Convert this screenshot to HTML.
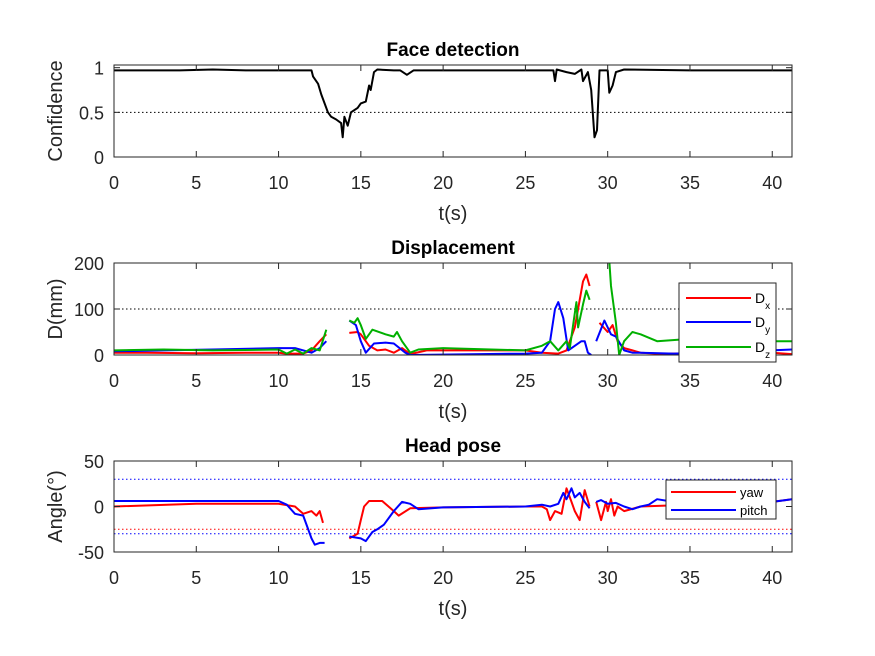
<!DOCTYPE html>
<html><head><meta charset="utf-8"><style>
body{margin:0;background:#fff}
svg{display:block;font-family:"Liberation Sans",Arial,sans-serif}
.tk{font-size:18px;fill:#262626}
.lb{font-size:20px;fill:#262626}
.tt{font-size:19px;font-weight:bold;fill:#000}
</style></head><body>
<svg id="fig" width="875" height="656" viewBox="0 0 875 656" xmlns="http://www.w3.org/2000/svg">
<rect width="875" height="656" fill="#fff"/>
</svg>
<script>
const faceT=[0,2,4,6,8,10,12,12.1,12.4,12.6,12.8,13.0,13.2,13.5,13.8,13.9,14.0,14.2,14.4,14.8,15.0,15.3,15.5,15.6,15.8,16,17,17.4,17.8,18.2,20,24,26.7,26.8,26.9,27.5,28,28.4,28.5,28.8,29.0,29.2,29.35,29.5,30,30.1,30.3,30.5,31,35,41.2];
const faceV=[0.97,0.97,0.97,0.98,0.97,0.97,0.97,0.9,0.82,0.7,0.6,0.5,0.45,0.42,0.38,0.22,0.45,0.35,0.5,0.55,0.6,0.62,0.8,0.75,0.95,0.98,0.97,0.97,0.92,0.97,0.97,0.97,0.97,0.85,0.98,0.95,0.93,0.98,0.85,0.95,0.75,0.22,0.3,0.97,0.97,0.72,0.8,0.95,0.98,0.97,0.97];
const dxT=[[0,2,5,8,10,10.5,11.5,12,12.5,12.9],[14.3,14.8,15,15.5,16,16.5,17,17.5,18,19,25,26,27,27.5,28,28.5,28.7,28.9],[29.5,30,30.3,30.6,31,31.5,32,33,36,40,41.2]];
const dxV=[[5,5,4,5,5,3,3,10,30,45],[48,50,45,20,10,12,5,15,2,10,10,5,3,10,60,160,175,150],[70,50,65,30,15,10,5,3,4,5,2]];
const dyT=[[0,3,6,10,11,12,12.5,12.9],[14.3,14.7,15,15.3,15.8,16.5,17,17.7,18,25,26,26.5,26.8,27,27.3,27.6,28,28.4,28.6,28.8,29],[29.3,29.8,30.2,30.5,31,31.5,32,34,38,41.2]];
const dyV=[[8,10,12,15,15,5,15,30],[75,65,30,5,25,27,25,5,0,3,5,30,100,115,80,10,20,30,30,5,0],[30,75,45,40,10,5,5,3,7,12]];
const dzT=[[0,3,6,10,10.5,11,11.5,12,12.5,12.9],[14.3,14.6,14.8,15,15.3,15.7,16.5,17,17.2,17.5,18,18.5,20,25,26,26.5,27,27.5,27.7,28.1,28.2,28.5,28.7,28.9],[30.05,30.2,30.5,30.7,31,31.5,32,33,35,39,39.5,41.2]];
const dzV=[[10,12,10,12,3,12,3,15,10,55],[75,70,80,65,35,55,45,40,50,30,5,12,15,10,20,30,10,30,15,115,60,110,140,120],[230,150,70,0,30,50,45,30,35,35,30,30]];
const yawT=[[0,5,10,11,11.5,12,12.3,12.5,12.7],[14.3,14.8,15,15.2,15.5,16.3,17,17.3,18,20,25,26,26.3,26.5,26.8,27.2,27.5,27.8,28,28.3,28.6,28.9],[29.3,29.6,29.9,30,30.2,30.4,30.6,31,32,35,40,41.2]];
const yawV=[[0,3,3,0,-8,-5,-10,-5,-18],[-35,-30,-15,0,6,6,-5,-10,-2,-1,0,0,-3,-15,-5,-8,20,5,-5,-15,18,0],[5,-15,5,-5,8,-10,0,-5,0,2,5,8]];
const pitchT=[[0,5,10,10.5,11,11.5,12,12.2,12.5,12.8],[14.3,15,15.3,15.7,16,16.4,17,17.5,18,18.5,20,25,26,26.5,27,27.3,27.5,27.8,28,28.3,28.6,28.9],[29.3,29.6,30,30.5,31,31.5,32,32.5,33,34,40,41.2]];
const pitchV=[[6,6,6,2,-8,-10,-35,-42,-40,-40],[-33,-35,-38,-28,-25,-20,-5,5,3,-3,-1,0,2,0,3,15,8,20,10,15,5,-2],[5,7,3,4,0,-3,0,2,8,5,5,8]];
const xTicks=[0,5,10,15,20,25,30,35,40];
const XMAX=41.2;
const L=114,R=792;
const panels=[
 {top:65,bot:157,ymin:0,ymax:1.03,ticks:[0,0.5,1],tl:['0','0.5','1'],title:'Face detection',ylab:'Confidence',name:'face'},
 {top:263,bot:355,ymin:0,ymax:200,ticks:[0,100,200],tl:['0','100','200'],title:'Displacement',ylab:'D(mm)',name:'disp'},
 {top:461,bot:552,ymin:-50,ymax:50,ticks:[-50,0,50],tl:['-50','0','50'],title:'Head pose',ylab:'Angle(°)',name:'pose'}];
const NS='http://www.w3.org/2000/svg';
const svg=document.getElementById('fig');
function mk(tag,attrs,parent){const e=document.createElementNS(NS,tag);for(const k in attrs)e.setAttribute(k,attrs[k]);(parent||svg).appendChild(e);return e;}
const xs=t=>L+(R-L)*t/XMAX;
function ys(p,v){return p.bot-(p.bot-p.top)*(v-p.ymin)/(p.ymax-p.ymin);}
function line(p,T,V,color,g,nm){
  const clipId='clip-'+p.name;
  const d=T.map((t,i)=>(i?'L':'M')+xs(t).toFixed(1)+','+ys(p,V[i]).toFixed(1)).join('');
  const e=mk('path',{d:d,fill:'none',stroke:color,'stroke-width':2,'stroke-linejoin':'round','clip-path':'url(#'+clipId+')'},g);
  
  
}
function hline(p,v,color,g,nm){
  const e=mk('line',{x1:L,x2:R,y1:ys(p,v),y2:ys(p,v),stroke:color,'stroke-width':1,'stroke-dasharray':'1.5,2.5'},g);
  
  
}
panels.forEach(p=>{
  const g=mk('g',{});
  
  
  const defs=mk('defs',{},g);const cp=mk('clipPath',{id:'clip-'+p.name},defs);mk('rect',{x:L,y:p.top,width:R-L,height:p.bot-p.top},cp);
  mk('rect',{x:L,y:p.top,width:R-L,height:p.bot-p.top,fill:'#fff',stroke:'none'},g);
  p.g=g;
});
function axes(p){
  const g=p.g;
  const box=mk('rect',{x:L,y:p.top,width:R-L,height:p.bot-p.top,fill:'none',stroke:'#262626','stroke-width':1},g);
  
  
  xTicks.forEach(t=>{
    const x=xs(t);
    mk('line',{x1:x,x2:x,y1:p.bot,y2:p.bot-6,stroke:'#262626'},g);
    mk('line',{x1:x,x2:x,y1:p.top,y2:p.top+6,stroke:'#262626'},g);
    const tx=mk('text',{x:x,y:p.bot+32,'text-anchor':'middle',class:'tk'},g);tx.textContent=t;
    
    
  });
  p.ticks.forEach((v,i)=>{
    const y=ys(p,v);
    mk('line',{x1:L,x2:L+6,y1:y,y2:y,stroke:'#262626'},g);
    mk('line',{x1:R,x2:R-6,y1:y,y2:y,stroke:'#262626'},g);
    const tx=mk('text',{x:L-10,y:y+7,'text-anchor':'end',class:'tk'},g);tx.textContent=p.tl[i];
    
    
  });
  const xl=mk('text',{x:(L+R)/2,y:p.bot+63,'text-anchor':'middle',class:'lb'},g);xl.textContent='t(s)';
  
  
  const cy=(p.top+p.bot)/2;
  const yl=mk('text',{x:0,y:0,'text-anchor':'middle',class:'lb',transform:'translate(62,'+cy+') rotate(-90)'},g);yl.textContent=p.ylab;
  
  
  const tt=mk('text',{x:(L+R)/2,y:p.top-9,'text-anchor':'middle',class:'tt'},g);tt.textContent=p.title;
  
  
}
const [P1,P2,P3]=panels;
hline(P1,0.5,'#000',P1.g,'half-confidence-line');
line(P1,faceT,faceV,'#000',P1.g,'confidence-line');
hline(P2,100,'#000',P2.g,'threshold-line');
dxT.forEach((T,i)=>line(P2,T,dxV[i],'#ff0000',P2.g,'dx-line'));
dyT.forEach((T,i)=>line(P2,T,dyV[i],'#0000ff',P2.g,'dy-line'));
dzT.forEach((T,i)=>line(P2,T,dzV[i],'#00b000',P2.g,'dz-line'));
hline(P3,30,'#0000ff',P3.g,'pitch-upper-threshold');
hline(P3,-30,'#0000ff',P3.g,'pitch-lower-threshold');
hline(P3,-25,'#ff0000',P3.g,'yaw-threshold');
yawT.forEach((T,i)=>line(P3,T,yawV[i],'#ff0000',P3.g,'yaw-line'));
pitchT.forEach((T,i)=>line(P3,T,pitchV[i],'#0000ff',P3.g,'pitch-line'));
panels.forEach(axes);
function legend(x,y,w,h,items,nm){
  const g=mk('g',{});
  
  
  mk('rect',{x:x,y:y,width:w,height:h,fill:'#fff',stroke:'#262626','stroke-width':1},g);
  items.forEach(it=>{
    mk('line',{x1:it.x1,x2:it.x2,y1:it.y,y2:it.y,stroke:it.c,'stroke-width':2},g);
    const t=mk('text',{x:it.x2+4,y:it.y+5,style:'font-size:'+it.fs+'px;fill:#000'},g);
    t.textContent=it.t;
    if(it.sub){const s=mk('tspan',{dy:6,style:'font-size:10px'},t);s.textContent=it.sub;}
    
    
  });
}
legend(679,283,97,79,[{x1:686,x2:751,y:298,c:'#ff0000',t:'D',sub:'x',fs:14},{x1:686,x2:751,y:322,c:'#0000ff',t:'D',sub:'y',fs:14},{x1:686,x2:751,y:347,c:'#00b000',t:'D',sub:'z',fs:14}],'displacement-legend');
legend(666,480,110,39,[{x1:671,x2:736,y:492,c:'#ff0000',t:'yaw',fs:13},{x1:671,x2:736,y:510,c:'#0000ff',t:'pitch',fs:13}],'pose-legend');
</script>
</body></html>
